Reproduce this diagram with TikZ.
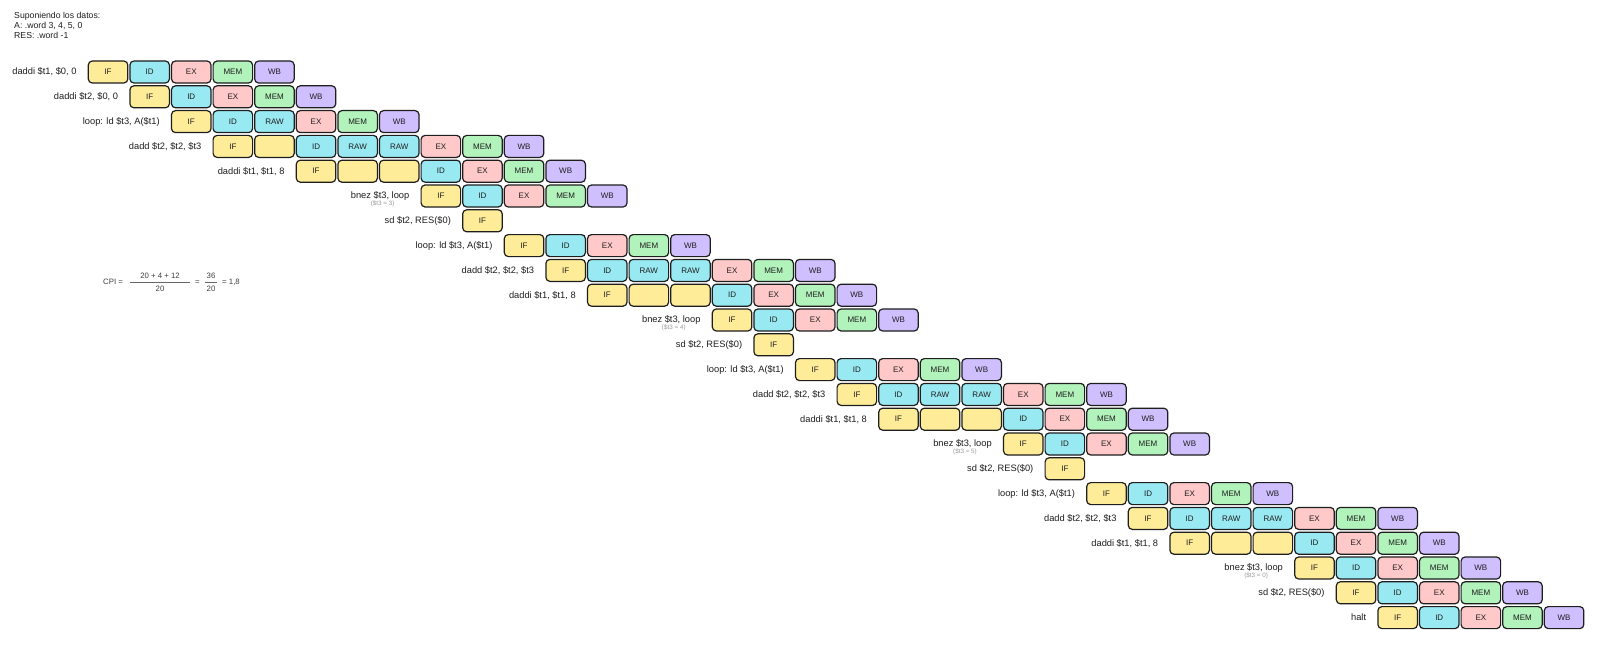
\documentclass[tikz,border=0pt]{standalone}
\usepackage{fontspec}
\setmainfont{Liberation Sans}
\usetikzlibrary{calc}

\definecolor{ink}{HTML}{1E1E1E}
\definecolor{cIF}{HTML}{FFEC99}
\definecolor{cID}{HTML}{99E9F2}
\definecolor{cEX}{HTML}{FFC9C9}
\definecolor{cMEM}{HTML}{B2F2BB}
\definecolor{cWB}{HTML}{D0BFFF}

% stage texts (S = stall slot, drawn empty)
\newcommand\txIF{IF}
\newcommand\txID{ID}
\newcommand\txRAW{RAW}
\newcommand\txEX{EX}
\newcommand\txMEM{MEM}
\newcommand\txWB{WB}
\newcommand\txS{}

\tikzset{
  stage/.style={draw=ink, line width=1.2pt, rounded corners=4pt,
    minimum width=39.5pt, minimum height=22pt, inner sep=0pt,
    font=\fontsize{8}{9}\selectfont, text=ink},
  stIF/.style={fill=cIF},
  stID/.style={fill=cID},
  stRAW/.style={fill=cID},
  stEX/.style={fill=cEX},
  stMEM/.style={fill=cMEM},
  stWB/.style={fill=cWB},
  stS/.style={fill=cIF},
  instr/.style={anchor=east, inner sep=0pt, font=\fontsize{9.3}{11}\selectfont, text=ink},
  note/.style={inner sep=0pt, font=\fontsize{6.3}{7}\selectfont, text=black!40},
  cpitext/.style={inner sep=0pt, font=\fontsize{7.8}{9}\selectfont, text=black!75},
  fracbar/.style={draw=black!60, line width=0.7pt},
}

% one instruction: row index, first cycle, label, list of stages
\newcommand\pipeline[4]{%
  \foreach \stg [count=\col from #2] in {#4}{
    \node[stage, st\stg] (r#1c\col) at ({88.3+41.6*\col+19.75},{61+24.8*#1+11}) {\csname tx\stg\endcsname};
  }
  \node[instr] (l#1) at ([xshift=-11pt]r#1c#2.west) {#3};
}
% value of $t3 under a branch label
\newcommand\branchnote[2]{%
  \node[note] (n#1) at ([xshift=2.5pt,yshift=-8pt]l#1.center) {#2};
}

\begin{document}
\begin{tikzpicture}[x=1pt, y=-1pt]
\fill[white] (0,0) rectangle (1600,650);
\useasboundingbox (0,0) rectangle (1600,650);

\node[anchor=north west, align=left, inner sep=0pt, font=\fontsize{8.7}{10}\selectfont, text=ink]
  (data) at (14,11.5) {Suponiendo los datos:\\A: .word 3, 4, 5, 0\\RES: .word -1};

% first pass
\pipeline{0}{0}{daddi \$t1, \$0, 0}{IF,ID,EX,MEM,WB}
\pipeline{1}{1}{daddi \$t2, \$0, 0}{IF,ID,EX,MEM,WB}
\pipeline{2}{2}{loop: ld \$t3, A(\$t1)}{IF,ID,RAW,EX,MEM,WB}
\pipeline{3}{3}{dadd \$t2, \$t2, \$t3}{IF,S,ID,RAW,RAW,EX,MEM,WB}
\pipeline{4}{5}{daddi \$t1, \$t1, 8}{IF,S,S,ID,EX,MEM,WB}
\pipeline{5}{8}{bnez \$t3, loop}{IF,ID,EX,MEM,WB}
\branchnote{5}{(\$t3 = 3)}
\pipeline{6}{9}{sd \$t2, RES(\$0)}{IF}

% second pass
\pipeline{7}{10}{loop: ld \$t3, A(\$t1)}{IF,ID,EX,MEM,WB}
\pipeline{8}{11}{dadd \$t2, \$t2, \$t3}{IF,ID,RAW,RAW,EX,MEM,WB}
\pipeline{9}{12}{daddi \$t1, \$t1, 8}{IF,S,S,ID,EX,MEM,WB}
\pipeline{10}{15}{bnez \$t3, loop}{IF,ID,EX,MEM,WB}
\branchnote{10}{(\$t3 = 4)}
\pipeline{11}{16}{sd \$t2, RES(\$0)}{IF}

% third pass
\pipeline{12}{17}{loop: ld \$t3, A(\$t1)}{IF,ID,EX,MEM,WB}
\pipeline{13}{18}{dadd \$t2, \$t2, \$t3}{IF,ID,RAW,RAW,EX,MEM,WB}
\pipeline{14}{19}{daddi \$t1, \$t1, 8}{IF,S,S,ID,EX,MEM,WB}
\pipeline{15}{22}{bnez \$t3, loop}{IF,ID,EX,MEM,WB}
\branchnote{15}{(\$t3 = 5)}
\pipeline{16}{23}{sd \$t2, RES(\$0)}{IF}

% last pass
\pipeline{17}{24}{loop: ld \$t3, A(\$t1)}{IF,ID,EX,MEM,WB}
\pipeline{18}{25}{dadd \$t2, \$t2, \$t3}{IF,ID,RAW,RAW,EX,MEM,WB}
\pipeline{19}{26}{daddi \$t1, \$t1, 8}{IF,S,S,ID,EX,MEM,WB}
\pipeline{20}{29}{bnez \$t3, loop}{IF,ID,EX,MEM,WB}
\branchnote{20}{(\$t3 = 0)}
\pipeline{21}{30}{sd \$t2, RES(\$0)}{IF,ID,EX,MEM,WB}
\pipeline{22}{31}{halt}{IF,ID,EX,MEM,WB}

% CPI
\node[cpitext, anchor=west] (cpi) at (103,282.3) {CPI =};
\node[cpitext] (num1) at (160,276) {20 + 4 + 12};
\node[cpitext] (den1) at (160,289) {20};
\coordinate (b1a) at (130,282.3);
\coordinate (b1b) at (190,282.3);
\draw[fracbar] (b1a) -- (b1b);
\node[cpitext] (eq1) at (197.5,282.3) {=};
\node[cpitext] (num2) at (211,276) {36};
\node[cpitext] (den2) at (211,289) {20};
\coordinate (b2a) at (205,282.3);
\coordinate (b2b) at (217,282.3);
\draw[fracbar] (b2a) -- (b2b);
\node[cpitext, anchor=west] (res) at (222,282.3) {= 1,8};
\end{tikzpicture}
\end{document}
